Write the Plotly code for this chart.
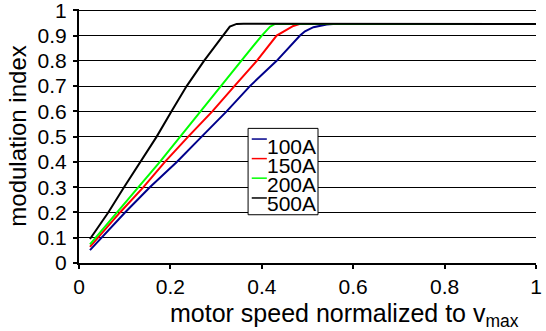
import plotly.graph_objects as go

speed_100 = [0.024, 0.1007, 0.155, 0.214, 0.2685, 0.323, 0.374, 0.4325, 0.4836, 0.4945, 0.513, 0.542, 0.556, 1.0]
mi_100 = [0.051, 0.2, 0.3, 0.4, 0.5, 0.6, 0.7, 0.8, 0.9, 0.917, 0.933, 0.944, 0.946, 0.946]

speed_150 = [0.024, 0.0897, 0.141, 0.188, 0.239, 0.2917, 0.340, 0.389, 0.4325, 0.455, 0.469, 0.484, 1.0]
mi_150 = [0.064, 0.2, 0.3, 0.4, 0.5, 0.6, 0.7, 0.8, 0.9, 0.925, 0.938, 0.946, 0.946]

speed_200 = [0.024, 0.084, 0.130, 0.177, 0.221, 0.266, 0.31, 0.355, 0.40, 0.418, 0.429, 1.0]
mi_200 = [0.074, 0.2, 0.3, 0.4, 0.5, 0.6, 0.7, 0.8, 0.9, 0.935, 0.946, 0.946]

speed_500 = [0.024, 0.064, 0.0985, 0.135, 0.170, 0.2025, 0.2356, 0.2735, 0.3144, 0.33, 0.345, 0.36, 1.0]
mi_500 = [0.095, 0.2, 0.3, 0.4, 0.5, 0.6, 0.7, 0.8, 0.9, 0.935, 0.946, 0.947, 0.946]

legend_names = ["100A", "150A", "200A", "500A"]
colors = ["#00008B", "#FF0000", "#00FF00", "#000000"]
xs_all = [speed_100, speed_150, speed_200, speed_500]
ys_all = [mi_100, mi_150, mi_200, mi_500]

x_title = "motor speed normalized to v<sub>max</sub>"
y_title = "modulation index"

FONT = "Arial, Liberation Sans, sans-serif"

fig = go.Figure()
for name, xs, ys, col in zip(legend_names, xs_all, ys_all, colors):
    fig.add_trace(go.Scatter(x=xs, y=ys, mode="lines", name=name,
                             line=dict(color=col, width=2), showlegend=False))

# hand-built legend box (compact, like the reference)
fig.add_shape(type="rect", xref="paper", yref="paper",
              x0=0.370, x1=0.523, y0=0.190, y1=0.530,
              line=dict(color="black", width=1), fillcolor="white", layer="above")
sample_y = [0.488, 0.411, 0.334, 0.256]
for col, sy in zip(colors, sample_y):
    fig.add_shape(type="line", xref="paper", yref="paper",
                  x0=0.378, x1=0.411, y0=sy, y1=sy,
                  line=dict(color=col, width=1.5), layer="above")
legend_text = "<br>".join("<span style='font-size:21px'>%s</span>" % n for n in legend_names)
fig.add_annotation(xref="paper", yref="paper", x=0.408, y=0.347,
                   xanchor="left", yanchor="middle", showarrow=False, align="left",
                   text=legend_text, font=dict(size=14.6, family=FONT, color="black"))

# x-axis title (sits right of centre in the reference)
fig.add_annotation(xref="paper", yref="paper", x=0.58, y=-0.205,
                   xanchor="center", yanchor="middle", showarrow=False,
                   text=x_title, font=dict(size=25, family=FONT, color="black"))

fig.update_layout(
    width=546, height=331,
    margin=dict(l=79, r=10, t=9, b=68),
    paper_bgcolor="white", plot_bgcolor="white",
    font=dict(family=FONT, color="black", size=21),
    showlegend=False,
    xaxis=dict(range=[0, 1], dtick=0.2, tick0=0, showgrid=False, zeroline=False,
               showline=True, linecolor="black", linewidth=2,
               ticks="outside", ticklen=4, tickcolor="black", tickwidth=1.5,
               ticklabelstandoff=0, ticklabeloverflow="allow", automargin=False,
               tickfont=dict(size=21, family=FONT)),
    yaxis=dict(range=[0, 1.005], tickvals=[0, 0.1, 0.2, 0.3, 0.4, 0.5, 0.6, 0.7, 0.8, 0.9, 1.0],
               ticktext=["0", "0.1", "0.2", "0.3", "0.4", "0.5", "0.6", "0.7", "0.8", "0.9", "1"],
               showgrid=True,
               gridcolor="black", gridwidth=1.3, zeroline=False,
               showline=True, linecolor="black", linewidth=2,
               ticks="outside", ticklen=4, tickcolor="black", tickwidth=1.5,
               ticklabelstandoff=2, ticklabeloverflow="allow", automargin=False,
               tickfont=dict(size=21, family=FONT),
               title=dict(text=y_title, font=dict(size=24, family=FONT), standoff=4)),
)

fig.write_html("out.html")
